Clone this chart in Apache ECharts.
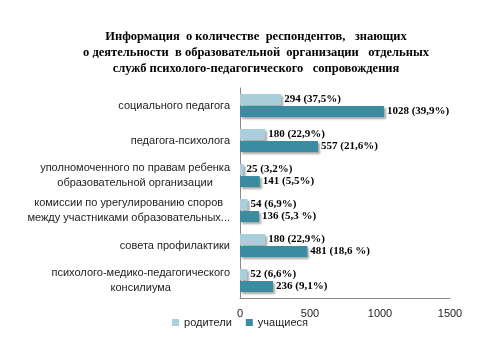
<!DOCTYPE html>
<html><head><meta charset="utf-8">
<script src="https://cdn.jsdelivr.net/npm/echarts@6/dist/echarts.min.js"></script>
<style>html,body{margin:0;padding:0;background:#fff}#c{width:480px;height:360px}</style>
</head><body><div id="c"></div>
<script>
const categories = [
  "социального педагога",
  "педагога-психолога",
  "уполномоченного по правам ребенка\nобразовательной организации",
  "комиссии по урегулированию споров\nмежду участниками образовательных...",
  "совета профилактики",
  "психолого-медико-педагогического\nконсилиума"
];
const parents = [294, 180, 25, 54, 180, 52];
const parentsPct = ["37,5%", "22,9%", "3,2%", "6,9%", "22,9%", "6,6%"];
const students = [1028, 557, 141, 136, 481, 236];
const studentsPct = ["39,9%", "21,6%", "5,5%", "5,3 %", "18,6 %", "9,1%"];
const xTicks = [0, 500, 1000, 1500];

const chart = echarts.init(document.getElementById('c'), null, {renderer: 'canvas'});
const labelStyle = {
  show: true, position: 'right', distance: 3,
  fontFamily: '"Liberation Serif", "Times New Roman", serif',
  fontWeight: 'bold', fontSize: 11, color: '#000',
  textBorderColor: '#fff', textBorderWidth: 2
};
chart.setOption({
  animation: false,
  title: {
    text: "Информация  о количестве  респондентов,   знающих\nо деятельности  в образовательной  организации   отдельных\nслужб психолого-педагогического   сопровождения",
    left: 251, top: 24, textAlign: 'center',
    textStyle: {fontFamily: '"Liberation Serif", "Times New Roman", serif', fontWeight: 'bold', fontSize: 12.5, lineHeight: 16, color: '#000'}
  },
  legend: {
    bottom: 27, left: 'center', itemWidth: 7, itemHeight: 7, itemGap: 14, icon: 'rect',
    textStyle: {fontFamily: '"Liberation Sans", Arial, sans-serif', fontSize: 11, color: '#222'},
    data: ['родители', 'учащиеся']
  },
  grid: {left: 240, right: 30, top: 88, bottom: 62, containLabel: false},
  xAxis: {
    type: 'value', min: xTicks[0], max: xTicks[xTicks.length - 1], interval: 500,
    axisLine: {show: true, lineStyle: {color: '#888'}},
    axisTick: {show: false}, splitLine: {show: false},
    axisLabel: {margin: 10, fontFamily: '"Liberation Sans", Arial, sans-serif', fontSize: 11, color: '#222',
      formatter: v => String(v)}
  },
  yAxis: {
    type: 'category', inverse: true, data: categories,
    axisLine: {show: true, lineStyle: {color: '#888'}},
    axisTick: {show: false},
    axisLabel: {
      margin: 10, align: 'right', color: '#222',
      fontFamily: '"Liberation Sans", Arial, sans-serif', fontSize: 11, lineHeight: 15,
      formatter: v => v.split('\n').map(s => '{c|' + s + '}').join('\n'),
      rich: {c: {align: 'center', fontFamily: '"Liberation Sans", Arial, sans-serif', fontSize: 11, lineHeight: 15, color: '#222'}}
    }
  },
  series: [
    {
      name: 'родители', type: 'bar', data: parents, barWidth: 11, barGap: '10%',
      itemStyle: {color: '#A9CEDC', shadowColor: 'rgba(0,0,0,0.35)', shadowOffsetX: 2, shadowOffsetY: 2, shadowBlur: 2},
      label: Object.assign({}, labelStyle, {formatter: p => parents[p.dataIndex] + ' (' + parentsPct[p.dataIndex] + ')'})
    },
    {
      name: 'учащиеся', type: 'bar', data: students, barWidth: 11, barGap: '10%',
      itemStyle: {color: '#3B8BA1', shadowColor: 'rgba(0,0,0,0.35)', shadowOffsetX: 2, shadowOffsetY: 2, shadowBlur: 2},
      label: Object.assign({}, labelStyle, {formatter: p => students[p.dataIndex] + ' (' + studentsPct[p.dataIndex] + ')'})
    }
  ]
});
</script></body></html>
